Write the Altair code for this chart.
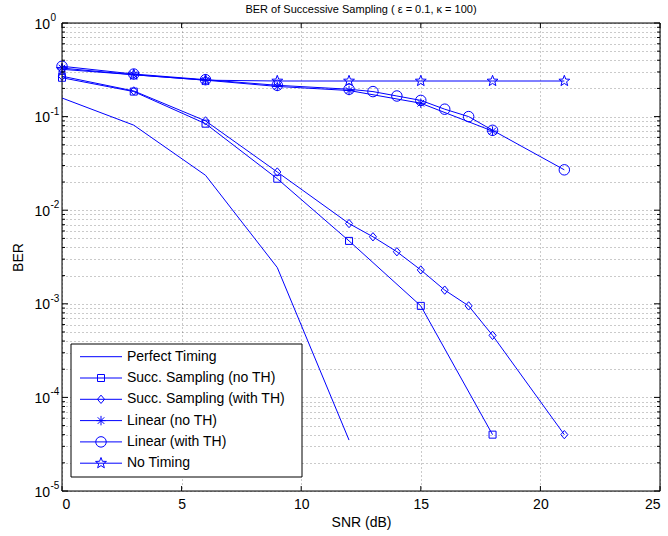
import math
import altair as alt
import pandas as pd

# ---------------- data ----------------
series_names = [
    "Perfect Timing",
    "Succ. Sampling (no TH)",
    "Succ. Sampling (with TH)",
    "Linear (no TH)",
    "Linear (with TH)",
    "No Timing",
]

snr_perfect = [0, 3, 6, 9, 12]
ber_perfect = [0.158, 0.081, 0.0236, 0.00244, 3.5e-5]

snr_succ_no = [0, 3, 6, 9, 12, 15, 18]
ber_succ_no = [0.26, 0.185, 0.084, 0.0217, 0.0047, 9.5e-4, 4.0e-5]

snr_succ_th = [0, 3, 6, 9, 12, 13, 14, 15, 16, 17, 18, 21]
ber_succ_th = [0.27, 0.188, 0.09, 0.0256, 0.0072, 0.0052, 0.0036, 0.0023, 0.0014, 9.5e-4, 4.6e-4, 4.0e-5]

snr_lin_no = [0, 3, 6, 9, 12, 15, 18]
ber_lin_no = [0.33, 0.28, 0.245, 0.21, 0.19, 0.139, 0.07]

snr_lin_th = [0, 3, 6, 9, 12, 13, 14, 15, 16, 17, 18, 21]
ber_lin_th = [0.345, 0.285, 0.248, 0.216, 0.196, 0.185, 0.166, 0.149, 0.12, 0.1, 0.0714, 0.027]

snr_none = [0, 3, 6, 9, 12, 15, 18, 21]
ber_none = [0.32, 0.28, 0.245, 0.24, 0.24, 0.24, 0.24, 0.24]

x_ticks = [0, 5, 10, 15, 20, 25]
y_exponents = [0, -1, -2, -3, -4, -5]
y_minor_mult = [2, 3, 4, 5, 6, 7, 8, 9]

title_text = "BER of Successive Sampling ( \u03b5 = 0.1, \u03ba = 100)"

# ---------------- tables ----------------
rows = []
for name, xs_, ys_ in zip(
    series_names,
    [snr_perfect, snr_succ_no, snr_succ_th, snr_lin_no, snr_lin_th, snr_none],
    [ber_perfect, ber_succ_no, ber_succ_th, ber_lin_no, ber_lin_th, ber_none],
):
    for i, (xv, yv) in enumerate(zip(xs_, ys_)):
        rows.append({"series": name, "snr": xv, "ber": yv, "order": i})
df = pd.DataFrame(rows)
df_pts = df[df["series"] != "Perfect Timing"]

y_major = [10.0 ** e for e in y_exponents]
y_minor = [m * 10.0 ** e for e in y_exponents[1:] for m in y_minor_mult]
y_all = sorted(y_major + y_minor)

df_xt = pd.DataFrame({"snr": x_ticks})
df_ymaj = pd.DataFrame({"ber": y_major})
df_ymin = pd.DataFrame({"ber": y_minor})
df_ylab = pd.DataFrame({"ber": y_major, "base": ["10"] * len(y_major),
                        "exp": [str(e) for e in y_exponents]})
df_leg = pd.DataFrame({"series": series_names, "idx": list(range(len(series_names)))})
df_one = pd.DataFrame({"label": [title_text]})

# ---------------- styles ----------------
BLUE = "#0000ff"
FONT = "Liberation Sans"
W, H = 598, 468

star_pts = []
for k in range(10):
    r = 1.0 if k % 2 == 0 else 0.42
    a = -math.pi / 2 + k * math.pi / 5
    star_pts.append(f"{r*math.cos(a):.3f},{r*math.sin(a):.3f}")
STAR = "M" + "L".join(star_pts) + "Z"
ASTER = "M-1,0L1,0M0,-1L0,1M-0.7,-0.7L0.7,0.7M-0.7,0.7L0.7,-0.7"
DIAMOND = "M0,-1L0.85,0L0,1L-0.85,0Z"

shape_scale = alt.Scale(domain=series_names[1:],
                        range=["square", DIAMOND, ASTER, "circle", STAR])
size_scale = alt.Scale(domain=series_names[1:], range=[49, 130, 64, 80, 110])

xs = alt.Scale(domain=[0, 25], nice=False, zero=False)
ys = alt.Scale(type="log", domain=[1e-5, 1], nice=False)

GRID = dict(grid=True, gridDash=[1, 3], gridColor="#000000", gridOpacity=0.42)

X_AX = alt.Axis(
    values=x_ticks, ticks=False, domain=False, labelFont=FONT,
    labelFontSize=14, labelColor="black", labelPadding=6,
    title="SNR (dB)", titleFont=FONT, titleFontSize=14,
    titleFontWeight="normal", titleColor="black", titlePadding=4, **GRID)
Y_AX = alt.Axis(
    values=y_all, ticks=False, domain=False, labels=False,
    title="BER", titleFont=FONT, titleFontSize=14,
    titleFontWeight="normal", titleColor="black", titlePadding=37, **GRID)


def X(field="snr"):
    return alt.X(f"{field}:Q", scale=xs, axis=X_AX, title="SNR (dB)")


def Y(field="ber"):
    return alt.Y(f"{field}:Q", scale=ys, axis=Y_AX, title="BER")


# ---------------- layers ----------------
lines = alt.Chart(df).mark_line(color=BLUE, strokeWidth=1).encode(
    x=X(), y=Y(), detail="series:N", order="order:Q")

points = alt.Chart(df_pts).mark_point(filled=False, color=BLUE, strokeWidth=1, opacity=1).encode(
    x=X(), y=Y(),
    shape=alt.Shape("series:N", scale=shape_scale, legend=None),
    size=alt.Size("series:N", scale=size_scale, legend=None),
)

xt_bot = alt.Chart(df_xt).mark_rule(color="black", strokeWidth=1).encode(
    x=X(), y=alt.value(H), y2=alt.value(H - 5))
xt_top = alt.Chart(df_xt).mark_rule(color="black", strokeWidth=1).encode(
    x=X(), y=alt.value(0), y2=alt.value(5))
yt_maj_l = alt.Chart(df_ymaj).mark_rule(color="black", strokeWidth=1).encode(
    y=Y(), x=alt.value(0), x2=alt.value(6))
yt_maj_r = alt.Chart(df_ymaj).mark_rule(color="black", strokeWidth=1).encode(
    y=Y(), x=alt.value(W), x2=alt.value(W - 6))
yt_min_l = alt.Chart(df_ymin).mark_rule(color="black", strokeWidth=1).encode(
    y=Y(), x=alt.value(0), x2=alt.value(3))
yt_min_r = alt.Chart(df_ymin).mark_rule(color="black", strokeWidth=1).encode(
    y=Y(), x=alt.value(W), x2=alt.value(W - 3))

ylab_base = alt.Chart(df_ylab).mark_text(
    align="right", baseline="middle", font=FONT, fontSize=14, color="black", dy=1.5).encode(
    y=Y(), x=alt.value(-12), text="base:N")
ylab_exp = alt.Chart(df_ylab).mark_text(
    align="left", baseline="middle", font=FONT, fontSize=10, color="black", dy=-5).encode(
    y=Y(), x=alt.value(-11.5), text="exp:N")

frame = alt.Chart(df_one).mark_rect(fill=None, stroke="black", strokeWidth=1).encode(
    x=alt.value(0), x2=alt.value(W), y=alt.value(0), y2=alt.value(H))

title = alt.Chart(df_one).mark_text(
    align="center", baseline="alphabetic", font=FONT, fontSize=11, color="black").encode(
    x=alt.value(W / 2), y=alt.value(-10), text="label:N")

leg_box = alt.Chart(df_one).mark_rect(fill="white", stroke="black", strokeWidth=1).encode(
    x=alt.value(9), x2=alt.value(240), y=alt.value(321), y2=alt.value(454))

leg_base = alt.Chart(df_leg).transform_calculate(ly="333.7 + datum.idx * 21.3")
leg_lines = leg_base.mark_rule(color=BLUE, strokeWidth=1).encode(
    x=alt.value(18), x2=alt.value(60), y=alt.Y("ly:Q", scale=None))
leg_pts = leg_base.transform_filter(alt.datum.idx > 0).mark_point(
    filled=False, color=BLUE, strokeWidth=1, opacity=1).encode(
    x=alt.value(39), y=alt.Y("ly:Q", scale=None),
    shape=alt.Shape("series:N", scale=shape_scale, legend=None),
    size=alt.Size("series:N", scale=size_scale, legend=None))
leg_text = leg_base.mark_text(align="left", baseline="middle", font=FONT,
                              fontSize=14, color="black").encode(
    x=alt.value(65), y=alt.Y("ly:Q", scale=None), text="series:N")

chart = alt.layer(
    lines, points, xt_bot, xt_top, yt_maj_l, yt_maj_r, yt_min_l, yt_min_r,
    ylab_base, ylab_exp, frame, title, leg_box, leg_lines, leg_pts, leg_text,
).properties(
    width=W, height=H,
    autosize=alt.AutoSizeParams(type="none"),
    padding={"left": 62, "top": 23, "right": 8, "bottom": 45},
).configure_view(stroke="black", strokeWidth=1).configure(background="white")

chart.save("out.html", embed_options={"renderer": "svg", "actions": False})
